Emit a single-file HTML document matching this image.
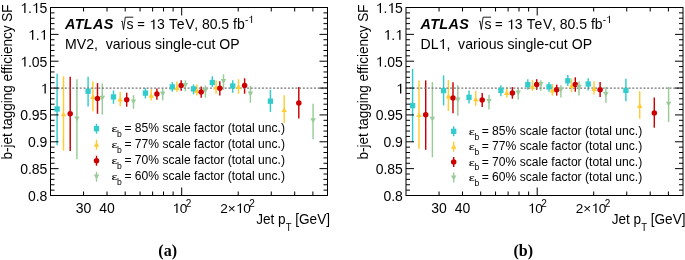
<!DOCTYPE html>
<html><head><meta charset="utf-8"><style>
html,body{margin:0;padding:0;background:#fff;}
svg{display:block;will-change:transform;}
text{font-family:"Liberation Sans",sans-serif;fill:#000;}
.tl{font-size:14px;}
.tl14{font-size:14px;}
.yt{font-size:13.5px;}
.atl{font-size:14.4px;font-weight:bold;font-style:italic;letter-spacing:0.35px;}
.lg{font-size:12.12px;}
.sup{font-size:10px;}
.sup2{font-size:10px;}
.sub{font-size:9.5px;}
.sub2{font-size:8.6px;}
.h{fill-opacity:0;}
.cap{font-family:"Liberation Serif",serif;font-weight:bold;font-size:16px;}
</style></head><body>
<svg width="685" height="260" viewBox="0 0 685 260">
<g>
<line x1="57.10" y1="73.80" x2="57.10" y2="145.20" stroke="#33cccc" stroke-width="1.45"></line>
<line x1="63.50" y1="76.20" x2="63.50" y2="150.60" stroke="#ffcc33" stroke-width="1.45"></line>
<line x1="70.20" y1="76.70" x2="70.20" y2="151.00" stroke="#cc0000" stroke-width="1.45"></line>
<line x1="76.90" y1="79.20" x2="76.90" y2="159.20" stroke="#99cc99" stroke-width="1.45"></line>
<line x1="88.10" y1="76.70" x2="88.10" y2="106.50" stroke="#33cccc" stroke-width="1.45"></line>
<line x1="92.90" y1="81.20" x2="92.90" y2="111.30" stroke="#ffcc33" stroke-width="1.45"></line>
<line x1="97.50" y1="83.10" x2="97.50" y2="113.80" stroke="#cc0000" stroke-width="1.45"></line>
<line x1="102.30" y1="83.50" x2="102.30" y2="114.60" stroke="#99cc99" stroke-width="1.45"></line>
<line x1="113.50" y1="90.40" x2="113.50" y2="103.80" stroke="#33cccc" stroke-width="1.45"></line>
<line x1="120.20" y1="91.70" x2="120.20" y2="106.20" stroke="#ffcc33" stroke-width="1.45"></line>
<line x1="126.70" y1="92.70" x2="126.70" y2="106.70" stroke="#cc0000" stroke-width="1.45"></line>
<line x1="133.50" y1="95.20" x2="133.50" y2="108.80" stroke="#99cc99" stroke-width="1.45"></line>
<line x1="145.40" y1="87.90" x2="145.40" y2="98.50" stroke="#33cccc" stroke-width="1.45"></line>
<line x1="151.20" y1="89.20" x2="151.20" y2="100.40" stroke="#ffcc33" stroke-width="1.45"></line>
<line x1="156.90" y1="88.50" x2="156.90" y2="99.80" stroke="#cc0000" stroke-width="1.45"></line>
<line x1="162.70" y1="88.50" x2="162.70" y2="100.40" stroke="#99cc99" stroke-width="1.45"></line>
<line x1="172.30" y1="82.10" x2="172.30" y2="91.70" stroke="#33cccc" stroke-width="1.45"></line>
<line x1="176.90" y1="81.50" x2="176.90" y2="91.70" stroke="#ffcc33" stroke-width="1.45"></line>
<line x1="181.20" y1="80.20" x2="181.20" y2="90.80" stroke="#cc0000" stroke-width="1.45"></line>
<line x1="185.40" y1="80.20" x2="185.40" y2="91.30" stroke="#99cc99" stroke-width="1.45"></line>
<line x1="193.50" y1="84.40" x2="193.50" y2="94.40" stroke="#33cccc" stroke-width="1.45"></line>
<line x1="196.90" y1="84.60" x2="196.90" y2="95.60" stroke="#ffcc33" stroke-width="1.45"></line>
<line x1="201.20" y1="86.40" x2="201.20" y2="97.80" stroke="#cc0000" stroke-width="1.45"></line>
<line x1="205.40" y1="85.40" x2="205.40" y2="97.60" stroke="#99cc99" stroke-width="1.45"></line>
<line x1="212.30" y1="76.30" x2="212.30" y2="86.90" stroke="#33cccc" stroke-width="1.45"></line>
<line x1="216.10" y1="80.20" x2="216.10" y2="93.70" stroke="#ffcc33" stroke-width="1.45"></line>
<line x1="219.80" y1="81.20" x2="219.80" y2="95.60" stroke="#cc0000" stroke-width="1.45"></line>
<line x1="223.50" y1="74.40" x2="223.50" y2="89.80" stroke="#99cc99" stroke-width="1.45"></line>
<line x1="232.70" y1="80.20" x2="232.70" y2="92.70" stroke="#33cccc" stroke-width="1.45"></line>
<line x1="238.50" y1="79.20" x2="238.50" y2="93.70" stroke="#ffcc33" stroke-width="1.45"></line>
<line x1="244.60" y1="78.30" x2="244.60" y2="93.70" stroke="#cc0000" stroke-width="1.45"></line>
<line x1="250.40" y1="86.00" x2="250.40" y2="102.70" stroke="#99cc99" stroke-width="1.45"></line>
<line x1="270.40" y1="89.80" x2="270.40" y2="111.90" stroke="#33cccc" stroke-width="1.45"></line>
<line x1="284.20" y1="95.20" x2="284.20" y2="122.90" stroke="#ffcc33" stroke-width="1.45"></line>
<line x1="298.80" y1="86.90" x2="298.80" y2="118.50" stroke="#cc0000" stroke-width="1.45"></line>
<line x1="313.10" y1="103.70" x2="313.10" y2="139.20" stroke="#99cc99" stroke-width="1.45"></line>
<line x1="50" y1="88.07" x2="327.5" y2="88.07" stroke="#777" stroke-width="1.2" stroke-dasharray="2 1.718"></line>
<rect x="54.45" y="106.35" width="5.3" height="5.3" fill="#33cccc"></rect>
<path d="M63.50 111.40L66.25 116.30L60.75 116.30Z" fill="#ffcc33"></path>
<circle cx="70.20" cy="113.80" r="2.75" fill="#cc0000"></circle>
<path d="M76.90 121.30L79.65 116.40L74.15 116.40Z" fill="#99cc99"></path>
<rect x="85.45" y="88.55" width="5.3" height="5.3" fill="#33cccc"></rect>
<path d="M92.90 94.10L95.65 99.00L90.15 99.00Z" fill="#ffcc33"></path>
<circle cx="97.50" cy="98.50" r="2.75" fill="#cc0000"></circle>
<path d="M102.30 100.70L105.05 95.80L99.55 95.80Z" fill="#99cc99"></path>
<rect x="110.85" y="94.25" width="5.3" height="5.3" fill="#33cccc"></rect>
<path d="M120.20 96.60L122.95 101.50L117.45 101.50Z" fill="#ffcc33"></path>
<circle cx="126.70" cy="99.80" r="2.75" fill="#cc0000"></circle>
<path d="M133.50 104.30L136.25 99.40L130.75 99.40Z" fill="#99cc99"></path>
<rect x="142.75" y="90.45" width="5.3" height="5.3" fill="#33cccc"></rect>
<path d="M151.20 92.80L153.95 97.70L148.45 97.70Z" fill="#ffcc33"></path>
<circle cx="156.90" cy="94.00" r="2.75" fill="#cc0000"></circle>
<path d="M162.70 96.50L165.45 91.60L159.95 91.60Z" fill="#99cc99"></path>
<rect x="169.65" y="84.25" width="5.3" height="5.3" fill="#33cccc"></rect>
<path d="M176.90 85.10L179.65 90.00L174.15 90.00Z" fill="#ffcc33"></path>
<circle cx="181.20" cy="85.60" r="2.75" fill="#cc0000"></circle>
<path d="M185.40 87.80L188.15 82.90L182.65 82.90Z" fill="#99cc99"></path>
<rect x="190.85" y="86.25" width="5.3" height="5.3" fill="#33cccc"></rect>
<path d="M196.90 88.00L199.65 92.90L194.15 92.90Z" fill="#ffcc33"></path>
<circle cx="201.20" cy="92.10" r="2.75" fill="#cc0000"></circle>
<path d="M205.40 93.30L208.15 88.40L202.65 88.40Z" fill="#99cc99"></path>
<rect x="209.65" y="79.85" width="5.3" height="5.3" fill="#33cccc"></rect>
<path d="M216.10 84.70L218.85 89.60L213.35 89.60Z" fill="#ffcc33"></path>
<circle cx="219.80" cy="88.30" r="2.75" fill="#cc0000"></circle>
<path d="M223.50 84.00L226.25 79.10L220.75 79.10Z" fill="#99cc99"></path>
<rect x="230.05" y="83.35" width="5.3" height="5.3" fill="#33cccc"></rect>
<path d="M238.50 84.10L241.25 89.00L235.75 89.00Z" fill="#ffcc33"></path>
<circle cx="244.60" cy="85.60" r="2.75" fill="#cc0000"></circle>
<path d="M250.40 96.50L253.15 91.60L247.65 91.60Z" fill="#99cc99"></path>
<rect x="267.75" y="98.55" width="5.3" height="5.3" fill="#33cccc"></rect>
<path d="M284.20 107.20L286.95 112.10L281.45 112.10Z" fill="#ffcc33"></path>
<circle cx="298.80" cy="103.10" r="2.75" fill="#cc0000"></circle>
<path d="M313.10 123.20L315.85 118.30L310.35 118.30Z" fill="#99cc99"></path>
<rect x="50.5" y="7.5" width="277.0" height="188.0" fill="none" stroke="#000" stroke-width="1"></rect>
<line x1="50.5" y1="195.50" x2="58.5" y2="195.50" stroke="#000" stroke-width="1"></line>
<line x1="327.5" y1="195.50" x2="319.5" y2="195.50" stroke="#000" stroke-width="1"></line>
<line x1="50.5" y1="190.13" x2="54.5" y2="190.13" stroke="#000" stroke-width="1"></line>
<line x1="327.5" y1="190.13" x2="323.5" y2="190.13" stroke="#000" stroke-width="1"></line>
<line x1="50.5" y1="184.76" x2="54.5" y2="184.76" stroke="#000" stroke-width="1"></line>
<line x1="327.5" y1="184.76" x2="323.5" y2="184.76" stroke="#000" stroke-width="1"></line>
<line x1="50.5" y1="179.39" x2="54.5" y2="179.39" stroke="#000" stroke-width="1"></line>
<line x1="327.5" y1="179.39" x2="323.5" y2="179.39" stroke="#000" stroke-width="1"></line>
<line x1="50.5" y1="174.01" x2="54.5" y2="174.01" stroke="#000" stroke-width="1"></line>
<line x1="327.5" y1="174.01" x2="323.5" y2="174.01" stroke="#000" stroke-width="1"></line>
<line x1="50.5" y1="168.64" x2="58.5" y2="168.64" stroke="#000" stroke-width="1"></line>
<line x1="327.5" y1="168.64" x2="319.5" y2="168.64" stroke="#000" stroke-width="1"></line>
<line x1="50.5" y1="163.27" x2="54.5" y2="163.27" stroke="#000" stroke-width="1"></line>
<line x1="327.5" y1="163.27" x2="323.5" y2="163.27" stroke="#000" stroke-width="1"></line>
<line x1="50.5" y1="157.90" x2="54.5" y2="157.90" stroke="#000" stroke-width="1"></line>
<line x1="327.5" y1="157.90" x2="323.5" y2="157.90" stroke="#000" stroke-width="1"></line>
<line x1="50.5" y1="152.53" x2="54.5" y2="152.53" stroke="#000" stroke-width="1"></line>
<line x1="327.5" y1="152.53" x2="323.5" y2="152.53" stroke="#000" stroke-width="1"></line>
<line x1="50.5" y1="147.16" x2="54.5" y2="147.16" stroke="#000" stroke-width="1"></line>
<line x1="327.5" y1="147.16" x2="323.5" y2="147.16" stroke="#000" stroke-width="1"></line>
<line x1="50.5" y1="141.79" x2="58.5" y2="141.79" stroke="#000" stroke-width="1"></line>
<line x1="327.5" y1="141.79" x2="319.5" y2="141.79" stroke="#000" stroke-width="1"></line>
<line x1="50.5" y1="136.41" x2="54.5" y2="136.41" stroke="#000" stroke-width="1"></line>
<line x1="327.5" y1="136.41" x2="323.5" y2="136.41" stroke="#000" stroke-width="1"></line>
<line x1="50.5" y1="131.04" x2="54.5" y2="131.04" stroke="#000" stroke-width="1"></line>
<line x1="327.5" y1="131.04" x2="323.5" y2="131.04" stroke="#000" stroke-width="1"></line>
<line x1="50.5" y1="125.67" x2="54.5" y2="125.67" stroke="#000" stroke-width="1"></line>
<line x1="327.5" y1="125.67" x2="323.5" y2="125.67" stroke="#000" stroke-width="1"></line>
<line x1="50.5" y1="120.30" x2="54.5" y2="120.30" stroke="#000" stroke-width="1"></line>
<line x1="327.5" y1="120.30" x2="323.5" y2="120.30" stroke="#000" stroke-width="1"></line>
<line x1="50.5" y1="114.93" x2="58.5" y2="114.93" stroke="#000" stroke-width="1"></line>
<line x1="327.5" y1="114.93" x2="319.5" y2="114.93" stroke="#000" stroke-width="1"></line>
<line x1="50.5" y1="109.56" x2="54.5" y2="109.56" stroke="#000" stroke-width="1"></line>
<line x1="327.5" y1="109.56" x2="323.5" y2="109.56" stroke="#000" stroke-width="1"></line>
<line x1="50.5" y1="104.19" x2="54.5" y2="104.19" stroke="#000" stroke-width="1"></line>
<line x1="327.5" y1="104.19" x2="323.5" y2="104.19" stroke="#000" stroke-width="1"></line>
<line x1="50.5" y1="98.81" x2="54.5" y2="98.81" stroke="#000" stroke-width="1"></line>
<line x1="327.5" y1="98.81" x2="323.5" y2="98.81" stroke="#000" stroke-width="1"></line>
<line x1="50.5" y1="93.44" x2="54.5" y2="93.44" stroke="#000" stroke-width="1"></line>
<line x1="327.5" y1="93.44" x2="323.5" y2="93.44" stroke="#000" stroke-width="1"></line>
<line x1="50.5" y1="88.07" x2="58.5" y2="88.07" stroke="#000" stroke-width="1"></line>
<line x1="327.5" y1="88.07" x2="319.5" y2="88.07" stroke="#000" stroke-width="1"></line>
<line x1="50.5" y1="82.70" x2="54.5" y2="82.70" stroke="#000" stroke-width="1"></line>
<line x1="327.5" y1="82.70" x2="323.5" y2="82.70" stroke="#000" stroke-width="1"></line>
<line x1="50.5" y1="77.33" x2="54.5" y2="77.33" stroke="#000" stroke-width="1"></line>
<line x1="327.5" y1="77.33" x2="323.5" y2="77.33" stroke="#000" stroke-width="1"></line>
<line x1="50.5" y1="71.96" x2="54.5" y2="71.96" stroke="#000" stroke-width="1"></line>
<line x1="327.5" y1="71.96" x2="323.5" y2="71.96" stroke="#000" stroke-width="1"></line>
<line x1="50.5" y1="66.59" x2="54.5" y2="66.59" stroke="#000" stroke-width="1"></line>
<line x1="327.5" y1="66.59" x2="323.5" y2="66.59" stroke="#000" stroke-width="1"></line>
<line x1="50.5" y1="61.21" x2="58.5" y2="61.21" stroke="#000" stroke-width="1"></line>
<line x1="327.5" y1="61.21" x2="319.5" y2="61.21" stroke="#000" stroke-width="1"></line>
<line x1="50.5" y1="55.84" x2="54.5" y2="55.84" stroke="#000" stroke-width="1"></line>
<line x1="327.5" y1="55.84" x2="323.5" y2="55.84" stroke="#000" stroke-width="1"></line>
<line x1="50.5" y1="50.47" x2="54.5" y2="50.47" stroke="#000" stroke-width="1"></line>
<line x1="327.5" y1="50.47" x2="323.5" y2="50.47" stroke="#000" stroke-width="1"></line>
<line x1="50.5" y1="45.10" x2="54.5" y2="45.10" stroke="#000" stroke-width="1"></line>
<line x1="327.5" y1="45.10" x2="323.5" y2="45.10" stroke="#000" stroke-width="1"></line>
<line x1="50.5" y1="39.73" x2="54.5" y2="39.73" stroke="#000" stroke-width="1"></line>
<line x1="327.5" y1="39.73" x2="323.5" y2="39.73" stroke="#000" stroke-width="1"></line>
<line x1="50.5" y1="34.36" x2="58.5" y2="34.36" stroke="#000" stroke-width="1"></line>
<line x1="327.5" y1="34.36" x2="319.5" y2="34.36" stroke="#000" stroke-width="1"></line>
<line x1="50.5" y1="28.99" x2="54.5" y2="28.99" stroke="#000" stroke-width="1"></line>
<line x1="327.5" y1="28.99" x2="323.5" y2="28.99" stroke="#000" stroke-width="1"></line>
<line x1="50.5" y1="23.61" x2="54.5" y2="23.61" stroke="#000" stroke-width="1"></line>
<line x1="327.5" y1="23.61" x2="323.5" y2="23.61" stroke="#000" stroke-width="1"></line>
<line x1="50.5" y1="18.24" x2="54.5" y2="18.24" stroke="#000" stroke-width="1"></line>
<line x1="327.5" y1="18.24" x2="323.5" y2="18.24" stroke="#000" stroke-width="1"></line>
<line x1="50.5" y1="12.87" x2="54.5" y2="12.87" stroke="#000" stroke-width="1"></line>
<line x1="327.5" y1="12.87" x2="323.5" y2="12.87" stroke="#000" stroke-width="1"></line>
<line x1="50.5" y1="7.50" x2="58.5" y2="7.50" stroke="#000" stroke-width="1"></line>
<line x1="327.5" y1="7.50" x2="319.5" y2="7.50" stroke="#000" stroke-width="1"></line>
<line x1="83.55" y1="195.5" x2="83.55" y2="191.5" stroke="#000" stroke-width="1"></line>
<line x1="83.55" y1="7.5" x2="83.55" y2="11.5" stroke="#000" stroke-width="1"></line>
<line x1="107.00" y1="195.5" x2="107.00" y2="191.5" stroke="#000" stroke-width="1"></line>
<line x1="107.00" y1="7.5" x2="107.00" y2="11.5" stroke="#000" stroke-width="1"></line>
<line x1="125.19" y1="195.5" x2="125.19" y2="191.5" stroke="#000" stroke-width="1"></line>
<line x1="125.19" y1="7.5" x2="125.19" y2="11.5" stroke="#000" stroke-width="1"></line>
<line x1="140.06" y1="195.5" x2="140.06" y2="191.5" stroke="#000" stroke-width="1"></line>
<line x1="140.06" y1="7.5" x2="140.06" y2="11.5" stroke="#000" stroke-width="1"></line>
<line x1="152.62" y1="195.5" x2="152.62" y2="191.5" stroke="#000" stroke-width="1"></line>
<line x1="152.62" y1="7.5" x2="152.62" y2="11.5" stroke="#000" stroke-width="1"></line>
<line x1="163.51" y1="195.5" x2="163.51" y2="191.5" stroke="#000" stroke-width="1"></line>
<line x1="163.51" y1="7.5" x2="163.51" y2="11.5" stroke="#000" stroke-width="1"></line>
<line x1="173.11" y1="195.5" x2="173.11" y2="191.5" stroke="#000" stroke-width="1"></line>
<line x1="173.11" y1="7.5" x2="173.11" y2="11.5" stroke="#000" stroke-width="1"></line>
<line x1="181.70" y1="195.5" x2="181.70" y2="187.5" stroke="#000" stroke-width="1"></line>
<line x1="181.70" y1="7.5" x2="181.70" y2="15.5" stroke="#000" stroke-width="1"></line>
<line x1="238.20" y1="195.5" x2="238.20" y2="191.5" stroke="#000" stroke-width="1"></line>
<line x1="238.20" y1="7.5" x2="238.20" y2="11.5" stroke="#000" stroke-width="1"></line>
<line x1="271.25" y1="195.5" x2="271.25" y2="191.5" stroke="#000" stroke-width="1"></line>
<line x1="271.25" y1="7.5" x2="271.25" y2="11.5" stroke="#000" stroke-width="1"></line>
<line x1="294.70" y1="195.5" x2="294.70" y2="191.5" stroke="#000" stroke-width="1"></line>
<line x1="294.70" y1="7.5" x2="294.70" y2="11.5" stroke="#000" stroke-width="1"></line>
<line x1="312.89" y1="195.5" x2="312.89" y2="191.5" stroke="#000" stroke-width="1"></line>
<line x1="312.89" y1="7.5" x2="312.89" y2="11.5" stroke="#000" stroke-width="1"></line>
<text x="47.4" y="200.90" text-anchor="end" class="tl">0.8</text>
<text x="47.4" y="174.04" text-anchor="end" class="tl">0.85</text>
<text x="47.4" y="147.19" text-anchor="end" class="tl">0.9</text>
<text x="47.4" y="120.33" text-anchor="end" class="tl">0.95</text>
<text x="48.2" y="93.47" text-anchor="end" class="tl"><tspan class="h">1</tspan></text><path d="M44.53 93.47L45.79 93.47L45.79 83.63L44.81 83.63L44.46 84.30L43.62 85.07L42.08 85.63L42.08 86.54L43.48 86.05L44.53 85.35Z"></path>
<text x="47.4" y="66.61" text-anchor="end" class="tl"><tspan class="h">1</tspan>.05</text><path d="M24.26 66.61L25.52 66.61L25.52 56.77L24.54 56.77L24.19 57.44L23.35 58.21L21.81 58.77L21.81 59.68L23.21 59.19L24.26 58.49Z"></path>
<text x="47.4" y="39.76" text-anchor="end" class="tl"><tspan class="h">1</tspan>.<tspan class="h">1</tspan></text><path d="M43.73 39.76L44.99 39.76L44.99 29.92L44.01 29.92L43.66 30.59L42.82 31.36L41.28 31.92L41.28 32.83L42.68 32.34L43.73 31.64Z"></path><path d="M32.05 39.76L33.31 39.76L33.31 29.92L32.33 29.92L31.98 30.59L31.14 31.36L29.60 31.92L29.60 32.83L31.00 32.34L32.05 31.64Z"></path>
<text x="47.4" y="12.90" text-anchor="end" class="tl"><tspan class="h">1</tspan>.<tspan class="h">1</tspan>5</text><path d="M35.94 12.90L37.20 12.90L37.20 3.06L36.22 3.06L35.87 3.73L35.03 4.50L33.49 5.06L33.49 5.97L34.89 5.48L35.94 4.78Z"></path><path d="M24.25 12.90L25.51 12.90L25.51 3.06L24.53 3.06L24.18 3.73L23.34 4.50L21.80 5.06L21.80 5.97L23.20 5.48L24.25 4.78Z"></path>
<text x="83.55" y="213" text-anchor="middle" class="tl">30</text>
<text x="107.00" y="213" text-anchor="middle" class="tl">40</text>
<text x="172.3" y="213" class="tl" style="font-size:13.6px"><tspan class="h">1</tspan>0<tspan class="sup" dx="-1.6" dy="-5.6">2</tspan></text><path d="M176.31 213.00L177.54 213.00L177.54 203.44L176.58 203.44L176.24 204.09L175.43 204.84L173.93 205.38L173.93 206.27L175.29 205.79L176.31 205.11Z"></path>
<text x="220.3" y="213" class="tl" style="font-size:13.6px">2×<tspan class="h">1</tspan>0<tspan class="sup" dx="-1.6" dy="-5.6">2</tspan></text><path d="M239.81 213.00L241.04 213.00L241.04 203.44L240.08 203.44L239.74 204.09L238.93 204.84L237.43 205.38L237.43 206.27L238.79 205.79L239.81 205.11Z"></path>
<text transform="translate(256.2,223.6) scale(1,1.07)" class="tl" style="font-size:13.6px">Jet p<tspan class="sub" dy="6.8">T</tspan><tspan dy="-6.8"> [GeV]</tspan></text>
<text transform="translate(12,159.4) rotate(-90) scale(1,1.07)" class="yt">b-jet tagging efficiency SF</text>
<text x="65" y="29.1" class="atl">ATLAS</text>
<text x="65" y="49" class="tl14" style="font-size:14.1px">MV2,&nbsp; various single-cut OP</text>
<path d="M121.30 21.5 L122.20 21.0 L123.50 29.5 L125.30 17.2 L133.30 17.2" fill="none" stroke="#000" stroke-width="0.9"></path>
<text y="29.3" class="tl14"><tspan x="126.60">s</tspan><tspan x="149.10"><tspan class="h">1</tspan>3</tspan><tspan x="168.90" style="letter-spacing:0.8px">TeV,</tspan><tspan x="201.90">80.5</tspan><tspan x="233.10">fb</tspan><tspan class="sup2" x="244.90" dy="-6.4">-<tspan class="h">1</tspan></tspan></text><path d="M251.19 22.90L252.09 22.90L252.09 15.87L251.39 15.87L251.14 16.35L250.54 16.90L249.44 17.30L249.44 17.95L250.44 17.60L251.19 17.10Z"></path><path d="M153.23 29.30L154.49 29.30L154.49 19.46L153.51 19.46L153.16 20.13L152.32 20.90L150.78 21.46L150.78 22.37L152.18 21.88L153.23 21.18Z"></path>
<rect x="137.80" y="22.0" width="6.4" height="1.15"></rect>
<rect x="137.80" y="25.0" width="6.4" height="1.15"></rect>
<line x1="96.5" y1="123.69999999999999" x2="96.5" y2="133.7" stroke="#33cccc" stroke-width="1.4"></line>
<rect x="93.85" y="126.05" width="5.3" height="5.3" fill="#33cccc"></rect>
<text transform="translate(111.5,132.20) scale(1.15,0.8)" class="lg">ε</text>
<text x="117.10" y="137.00" class="sub2">b</text>
<text x="124.40" y="132.20" class="lg">= 85% scale factor (total unc.)</text>
<line x1="96.5" y1="139.7" x2="96.5" y2="149.7" stroke="#ffcc33" stroke-width="1.4"></line>
<path d="M96.50 141.90L99.25 146.80L93.75 146.80Z" fill="#ffcc33"></path>
<text transform="translate(111.5,148.20) scale(1.15,0.8)" class="lg">ε</text>
<text x="117.10" y="153.00" class="sub2">b</text>
<text x="124.40" y="148.20" class="lg">= 77% scale factor (total unc.)</text>
<line x1="96.5" y1="155.7" x2="96.5" y2="165.7" stroke="#cc0000" stroke-width="1.4"></line>
<circle cx="96.50" cy="160.70" r="2.75" fill="#cc0000"></circle>
<text transform="translate(111.5,164.20) scale(1.15,0.8)" class="lg">ε</text>
<text x="117.10" y="169.00" class="sub2">b</text>
<text x="124.40" y="164.20" class="lg">= 70% scale factor (total unc.)</text>
<line x1="96.5" y1="171.7" x2="96.5" y2="181.7" stroke="#99cc99" stroke-width="1.4"></line>
<path d="M96.50 179.50L99.25 174.60L93.75 174.60Z" fill="#99cc99"></path>
<text transform="translate(111.5,180.20) scale(1.15,0.8)" class="lg">ε</text>
<text x="117.10" y="185.00" class="sub2">b</text>
<text x="124.40" y="180.20" class="lg">= 60% scale factor (total unc.)</text>
</g>
<g transform="translate(355.5,0)">
<line x1="57.10" y1="68.80" x2="57.10" y2="141.90" stroke="#33cccc" stroke-width="1.45"></line>
<line x1="63.50" y1="80.40" x2="63.50" y2="148.70" stroke="#ffcc33" stroke-width="1.45"></line>
<line x1="70.20" y1="80.40" x2="70.20" y2="149.80" stroke="#cc0000" stroke-width="1.45"></line>
<line x1="76.90" y1="82.10" x2="76.90" y2="157.30" stroke="#99cc99" stroke-width="1.45"></line>
<line x1="88.10" y1="75.40" x2="88.10" y2="105.40" stroke="#33cccc" stroke-width="1.45"></line>
<line x1="92.90" y1="80.00" x2="92.90" y2="111.00" stroke="#ffcc33" stroke-width="1.45"></line>
<line x1="97.50" y1="82.30" x2="97.50" y2="113.30" stroke="#cc0000" stroke-width="1.45"></line>
<line x1="102.30" y1="85.20" x2="102.30" y2="115.80" stroke="#99cc99" stroke-width="1.45"></line>
<line x1="113.50" y1="90.40" x2="113.50" y2="103.50" stroke="#33cccc" stroke-width="1.45"></line>
<line x1="120.20" y1="91.00" x2="120.20" y2="105.80" stroke="#ffcc33" stroke-width="1.45"></line>
<line x1="126.70" y1="92.90" x2="126.70" y2="106.90" stroke="#cc0000" stroke-width="1.45"></line>
<line x1="133.50" y1="94.80" x2="133.50" y2="109.40" stroke="#99cc99" stroke-width="1.45"></line>
<line x1="145.40" y1="85.20" x2="145.40" y2="96.20" stroke="#33cccc" stroke-width="1.45"></line>
<line x1="151.20" y1="87.10" x2="151.20" y2="97.70" stroke="#ffcc33" stroke-width="1.45"></line>
<line x1="156.90" y1="87.10" x2="156.90" y2="98.70" stroke="#cc0000" stroke-width="1.45"></line>
<line x1="162.70" y1="87.70" x2="162.70" y2="99.60" stroke="#99cc99" stroke-width="1.45"></line>
<line x1="172.30" y1="79.30" x2="172.30" y2="89.70" stroke="#33cccc" stroke-width="1.45"></line>
<line x1="176.90" y1="80.10" x2="176.90" y2="90.90" stroke="#ffcc33" stroke-width="1.45"></line>
<line x1="181.20" y1="79.20" x2="181.20" y2="89.80" stroke="#cc0000" stroke-width="1.45"></line>
<line x1="185.40" y1="80.20" x2="185.40" y2="90.80" stroke="#99cc99" stroke-width="1.45"></line>
<line x1="193.50" y1="82.10" x2="193.50" y2="91.70" stroke="#33cccc" stroke-width="1.45"></line>
<line x1="196.90" y1="84.00" x2="196.90" y2="95.60" stroke="#ffcc33" stroke-width="1.45"></line>
<line x1="201.20" y1="84.60" x2="201.20" y2="95.60" stroke="#cc0000" stroke-width="1.45"></line>
<line x1="205.40" y1="85.00" x2="205.40" y2="97.50" stroke="#99cc99" stroke-width="1.45"></line>
<line x1="212.30" y1="75.00" x2="212.30" y2="86.00" stroke="#33cccc" stroke-width="1.45"></line>
<line x1="216.10" y1="78.80" x2="216.10" y2="92.30" stroke="#ffcc33" stroke-width="1.45"></line>
<line x1="219.80" y1="77.30" x2="219.80" y2="91.70" stroke="#cc0000" stroke-width="1.45"></line>
<line x1="223.50" y1="81.20" x2="223.50" y2="95.60" stroke="#99cc99" stroke-width="1.45"></line>
<line x1="232.70" y1="78.30" x2="232.70" y2="90.40" stroke="#33cccc" stroke-width="1.45"></line>
<line x1="238.50" y1="81.20" x2="238.50" y2="94.60" stroke="#ffcc33" stroke-width="1.45"></line>
<line x1="244.60" y1="82.10" x2="244.60" y2="96.90" stroke="#cc0000" stroke-width="1.45"></line>
<line x1="250.40" y1="86.90" x2="250.40" y2="102.70" stroke="#99cc99" stroke-width="1.45"></line>
<line x1="270.40" y1="78.80" x2="270.40" y2="101.30" stroke="#33cccc" stroke-width="1.45"></line>
<line x1="284.20" y1="91.20" x2="284.20" y2="118.70" stroke="#ffcc33" stroke-width="1.45"></line>
<line x1="298.80" y1="97.50" x2="298.80" y2="127.70" stroke="#cc0000" stroke-width="1.45"></line>
<line x1="313.10" y1="86.90" x2="313.10" y2="121.90" stroke="#99cc99" stroke-width="1.45"></line>
<line x1="50" y1="88.07" x2="327.5" y2="88.07" stroke="#777" stroke-width="1.2" stroke-dasharray="2 1.718"></line>
<rect x="54.45" y="102.95" width="5.3" height="5.3" fill="#33cccc"></rect>
<path d="M63.50 112.20L66.25 117.10L60.75 117.10Z" fill="#ffcc33"></path>
<circle cx="70.20" cy="114.80" r="2.75" fill="#cc0000"></circle>
<path d="M76.90 121.60L79.65 116.70L74.15 116.70Z" fill="#99cc99"></path>
<rect x="85.45" y="87.95" width="5.3" height="5.3" fill="#33cccc"></rect>
<path d="M92.90 93.50L95.65 98.40L90.15 98.40Z" fill="#ffcc33"></path>
<circle cx="97.50" cy="98.10" r="2.75" fill="#cc0000"></circle>
<path d="M102.30 102.40L105.05 97.50L99.55 97.50Z" fill="#99cc99"></path>
<rect x="110.85" y="94.65" width="5.3" height="5.3" fill="#33cccc"></rect>
<path d="M120.20 96.40L122.95 101.30L117.45 101.30Z" fill="#ffcc33"></path>
<circle cx="126.70" cy="100.00" r="2.75" fill="#cc0000"></circle>
<path d="M133.50 104.00L136.25 99.10L130.75 99.10Z" fill="#99cc99"></path>
<rect x="142.75" y="87.75" width="5.3" height="5.3" fill="#33cccc"></rect>
<path d="M151.20 90.10L153.95 95.00L148.45 95.00Z" fill="#ffcc33"></path>
<circle cx="156.90" cy="92.90" r="2.75" fill="#cc0000"></circle>
<path d="M162.70 95.30L165.45 90.40L159.95 90.40Z" fill="#99cc99"></path>
<rect x="169.65" y="81.95" width="5.3" height="5.3" fill="#33cccc"></rect>
<path d="M176.90 83.90L179.65 88.80L174.15 88.80Z" fill="#ffcc33"></path>
<circle cx="181.20" cy="84.60" r="2.75" fill="#cc0000"></circle>
<path d="M185.40 86.80L188.15 81.90L182.65 81.90Z" fill="#99cc99"></path>
<rect x="190.85" y="84.25" width="5.3" height="5.3" fill="#33cccc"></rect>
<path d="M196.90 87.60L199.65 92.50L194.15 92.50Z" fill="#ffcc33"></path>
<circle cx="201.20" cy="89.80" r="2.75" fill="#cc0000"></circle>
<path d="M205.40 92.60L208.15 87.70L202.65 87.70Z" fill="#99cc99"></path>
<rect x="209.65" y="78.15" width="5.3" height="5.3" fill="#33cccc"></rect>
<path d="M216.10 83.20L218.85 88.10L213.35 88.10Z" fill="#ffcc33"></path>
<circle cx="219.80" cy="84.40" r="2.75" fill="#cc0000"></circle>
<path d="M223.50 89.70L226.25 84.80L220.75 84.80Z" fill="#99cc99"></path>
<rect x="230.05" y="81.35" width="5.3" height="5.3" fill="#33cccc"></rect>
<path d="M238.50 86.00L241.25 90.90L235.75 90.90Z" fill="#ffcc33"></path>
<circle cx="244.60" cy="89.80" r="2.75" fill="#cc0000"></circle>
<path d="M250.40 97.00L253.15 92.10L247.65 92.10Z" fill="#99cc99"></path>
<rect x="267.75" y="87.75" width="5.3" height="5.3" fill="#33cccc"></rect>
<path d="M284.20 103.00L286.95 107.90L281.45 107.90Z" fill="#ffcc33"></path>
<circle cx="298.80" cy="112.90" r="2.75" fill="#cc0000"></circle>
<path d="M313.10 106.60L315.85 101.70L310.35 101.70Z" fill="#99cc99"></path>
<rect x="50.5" y="7.5" width="277.0" height="188.0" fill="none" stroke="#000" stroke-width="1"></rect>
<line x1="50.5" y1="195.50" x2="58.5" y2="195.50" stroke="#000" stroke-width="1"></line>
<line x1="327.5" y1="195.50" x2="319.5" y2="195.50" stroke="#000" stroke-width="1"></line>
<line x1="50.5" y1="190.13" x2="54.5" y2="190.13" stroke="#000" stroke-width="1"></line>
<line x1="327.5" y1="190.13" x2="323.5" y2="190.13" stroke="#000" stroke-width="1"></line>
<line x1="50.5" y1="184.76" x2="54.5" y2="184.76" stroke="#000" stroke-width="1"></line>
<line x1="327.5" y1="184.76" x2="323.5" y2="184.76" stroke="#000" stroke-width="1"></line>
<line x1="50.5" y1="179.39" x2="54.5" y2="179.39" stroke="#000" stroke-width="1"></line>
<line x1="327.5" y1="179.39" x2="323.5" y2="179.39" stroke="#000" stroke-width="1"></line>
<line x1="50.5" y1="174.01" x2="54.5" y2="174.01" stroke="#000" stroke-width="1"></line>
<line x1="327.5" y1="174.01" x2="323.5" y2="174.01" stroke="#000" stroke-width="1"></line>
<line x1="50.5" y1="168.64" x2="58.5" y2="168.64" stroke="#000" stroke-width="1"></line>
<line x1="327.5" y1="168.64" x2="319.5" y2="168.64" stroke="#000" stroke-width="1"></line>
<line x1="50.5" y1="163.27" x2="54.5" y2="163.27" stroke="#000" stroke-width="1"></line>
<line x1="327.5" y1="163.27" x2="323.5" y2="163.27" stroke="#000" stroke-width="1"></line>
<line x1="50.5" y1="157.90" x2="54.5" y2="157.90" stroke="#000" stroke-width="1"></line>
<line x1="327.5" y1="157.90" x2="323.5" y2="157.90" stroke="#000" stroke-width="1"></line>
<line x1="50.5" y1="152.53" x2="54.5" y2="152.53" stroke="#000" stroke-width="1"></line>
<line x1="327.5" y1="152.53" x2="323.5" y2="152.53" stroke="#000" stroke-width="1"></line>
<line x1="50.5" y1="147.16" x2="54.5" y2="147.16" stroke="#000" stroke-width="1"></line>
<line x1="327.5" y1="147.16" x2="323.5" y2="147.16" stroke="#000" stroke-width="1"></line>
<line x1="50.5" y1="141.79" x2="58.5" y2="141.79" stroke="#000" stroke-width="1"></line>
<line x1="327.5" y1="141.79" x2="319.5" y2="141.79" stroke="#000" stroke-width="1"></line>
<line x1="50.5" y1="136.41" x2="54.5" y2="136.41" stroke="#000" stroke-width="1"></line>
<line x1="327.5" y1="136.41" x2="323.5" y2="136.41" stroke="#000" stroke-width="1"></line>
<line x1="50.5" y1="131.04" x2="54.5" y2="131.04" stroke="#000" stroke-width="1"></line>
<line x1="327.5" y1="131.04" x2="323.5" y2="131.04" stroke="#000" stroke-width="1"></line>
<line x1="50.5" y1="125.67" x2="54.5" y2="125.67" stroke="#000" stroke-width="1"></line>
<line x1="327.5" y1="125.67" x2="323.5" y2="125.67" stroke="#000" stroke-width="1"></line>
<line x1="50.5" y1="120.30" x2="54.5" y2="120.30" stroke="#000" stroke-width="1"></line>
<line x1="327.5" y1="120.30" x2="323.5" y2="120.30" stroke="#000" stroke-width="1"></line>
<line x1="50.5" y1="114.93" x2="58.5" y2="114.93" stroke="#000" stroke-width="1"></line>
<line x1="327.5" y1="114.93" x2="319.5" y2="114.93" stroke="#000" stroke-width="1"></line>
<line x1="50.5" y1="109.56" x2="54.5" y2="109.56" stroke="#000" stroke-width="1"></line>
<line x1="327.5" y1="109.56" x2="323.5" y2="109.56" stroke="#000" stroke-width="1"></line>
<line x1="50.5" y1="104.19" x2="54.5" y2="104.19" stroke="#000" stroke-width="1"></line>
<line x1="327.5" y1="104.19" x2="323.5" y2="104.19" stroke="#000" stroke-width="1"></line>
<line x1="50.5" y1="98.81" x2="54.5" y2="98.81" stroke="#000" stroke-width="1"></line>
<line x1="327.5" y1="98.81" x2="323.5" y2="98.81" stroke="#000" stroke-width="1"></line>
<line x1="50.5" y1="93.44" x2="54.5" y2="93.44" stroke="#000" stroke-width="1"></line>
<line x1="327.5" y1="93.44" x2="323.5" y2="93.44" stroke="#000" stroke-width="1"></line>
<line x1="50.5" y1="88.07" x2="58.5" y2="88.07" stroke="#000" stroke-width="1"></line>
<line x1="327.5" y1="88.07" x2="319.5" y2="88.07" stroke="#000" stroke-width="1"></line>
<line x1="50.5" y1="82.70" x2="54.5" y2="82.70" stroke="#000" stroke-width="1"></line>
<line x1="327.5" y1="82.70" x2="323.5" y2="82.70" stroke="#000" stroke-width="1"></line>
<line x1="50.5" y1="77.33" x2="54.5" y2="77.33" stroke="#000" stroke-width="1"></line>
<line x1="327.5" y1="77.33" x2="323.5" y2="77.33" stroke="#000" stroke-width="1"></line>
<line x1="50.5" y1="71.96" x2="54.5" y2="71.96" stroke="#000" stroke-width="1"></line>
<line x1="327.5" y1="71.96" x2="323.5" y2="71.96" stroke="#000" stroke-width="1"></line>
<line x1="50.5" y1="66.59" x2="54.5" y2="66.59" stroke="#000" stroke-width="1"></line>
<line x1="327.5" y1="66.59" x2="323.5" y2="66.59" stroke="#000" stroke-width="1"></line>
<line x1="50.5" y1="61.21" x2="58.5" y2="61.21" stroke="#000" stroke-width="1"></line>
<line x1="327.5" y1="61.21" x2="319.5" y2="61.21" stroke="#000" stroke-width="1"></line>
<line x1="50.5" y1="55.84" x2="54.5" y2="55.84" stroke="#000" stroke-width="1"></line>
<line x1="327.5" y1="55.84" x2="323.5" y2="55.84" stroke="#000" stroke-width="1"></line>
<line x1="50.5" y1="50.47" x2="54.5" y2="50.47" stroke="#000" stroke-width="1"></line>
<line x1="327.5" y1="50.47" x2="323.5" y2="50.47" stroke="#000" stroke-width="1"></line>
<line x1="50.5" y1="45.10" x2="54.5" y2="45.10" stroke="#000" stroke-width="1"></line>
<line x1="327.5" y1="45.10" x2="323.5" y2="45.10" stroke="#000" stroke-width="1"></line>
<line x1="50.5" y1="39.73" x2="54.5" y2="39.73" stroke="#000" stroke-width="1"></line>
<line x1="327.5" y1="39.73" x2="323.5" y2="39.73" stroke="#000" stroke-width="1"></line>
<line x1="50.5" y1="34.36" x2="58.5" y2="34.36" stroke="#000" stroke-width="1"></line>
<line x1="327.5" y1="34.36" x2="319.5" y2="34.36" stroke="#000" stroke-width="1"></line>
<line x1="50.5" y1="28.99" x2="54.5" y2="28.99" stroke="#000" stroke-width="1"></line>
<line x1="327.5" y1="28.99" x2="323.5" y2="28.99" stroke="#000" stroke-width="1"></line>
<line x1="50.5" y1="23.61" x2="54.5" y2="23.61" stroke="#000" stroke-width="1"></line>
<line x1="327.5" y1="23.61" x2="323.5" y2="23.61" stroke="#000" stroke-width="1"></line>
<line x1="50.5" y1="18.24" x2="54.5" y2="18.24" stroke="#000" stroke-width="1"></line>
<line x1="327.5" y1="18.24" x2="323.5" y2="18.24" stroke="#000" stroke-width="1"></line>
<line x1="50.5" y1="12.87" x2="54.5" y2="12.87" stroke="#000" stroke-width="1"></line>
<line x1="327.5" y1="12.87" x2="323.5" y2="12.87" stroke="#000" stroke-width="1"></line>
<line x1="50.5" y1="7.50" x2="58.5" y2="7.50" stroke="#000" stroke-width="1"></line>
<line x1="327.5" y1="7.50" x2="319.5" y2="7.50" stroke="#000" stroke-width="1"></line>
<line x1="83.55" y1="195.5" x2="83.55" y2="191.5" stroke="#000" stroke-width="1"></line>
<line x1="83.55" y1="7.5" x2="83.55" y2="11.5" stroke="#000" stroke-width="1"></line>
<line x1="107.00" y1="195.5" x2="107.00" y2="191.5" stroke="#000" stroke-width="1"></line>
<line x1="107.00" y1="7.5" x2="107.00" y2="11.5" stroke="#000" stroke-width="1"></line>
<line x1="125.19" y1="195.5" x2="125.19" y2="191.5" stroke="#000" stroke-width="1"></line>
<line x1="125.19" y1="7.5" x2="125.19" y2="11.5" stroke="#000" stroke-width="1"></line>
<line x1="140.06" y1="195.5" x2="140.06" y2="191.5" stroke="#000" stroke-width="1"></line>
<line x1="140.06" y1="7.5" x2="140.06" y2="11.5" stroke="#000" stroke-width="1"></line>
<line x1="152.62" y1="195.5" x2="152.62" y2="191.5" stroke="#000" stroke-width="1"></line>
<line x1="152.62" y1="7.5" x2="152.62" y2="11.5" stroke="#000" stroke-width="1"></line>
<line x1="163.51" y1="195.5" x2="163.51" y2="191.5" stroke="#000" stroke-width="1"></line>
<line x1="163.51" y1="7.5" x2="163.51" y2="11.5" stroke="#000" stroke-width="1"></line>
<line x1="173.11" y1="195.5" x2="173.11" y2="191.5" stroke="#000" stroke-width="1"></line>
<line x1="173.11" y1="7.5" x2="173.11" y2="11.5" stroke="#000" stroke-width="1"></line>
<line x1="181.70" y1="195.5" x2="181.70" y2="187.5" stroke="#000" stroke-width="1"></line>
<line x1="181.70" y1="7.5" x2="181.70" y2="15.5" stroke="#000" stroke-width="1"></line>
<line x1="238.20" y1="195.5" x2="238.20" y2="191.5" stroke="#000" stroke-width="1"></line>
<line x1="238.20" y1="7.5" x2="238.20" y2="11.5" stroke="#000" stroke-width="1"></line>
<line x1="271.25" y1="195.5" x2="271.25" y2="191.5" stroke="#000" stroke-width="1"></line>
<line x1="271.25" y1="7.5" x2="271.25" y2="11.5" stroke="#000" stroke-width="1"></line>
<line x1="294.70" y1="195.5" x2="294.70" y2="191.5" stroke="#000" stroke-width="1"></line>
<line x1="294.70" y1="7.5" x2="294.70" y2="11.5" stroke="#000" stroke-width="1"></line>
<line x1="312.89" y1="195.5" x2="312.89" y2="191.5" stroke="#000" stroke-width="1"></line>
<line x1="312.89" y1="7.5" x2="312.89" y2="11.5" stroke="#000" stroke-width="1"></line>
<text x="47.4" y="200.90" text-anchor="end" class="tl">0.8</text>
<text x="47.4" y="174.04" text-anchor="end" class="tl">0.85</text>
<text x="47.4" y="147.19" text-anchor="end" class="tl">0.9</text>
<text x="47.4" y="120.33" text-anchor="end" class="tl">0.95</text>
<text x="48.2" y="93.47" text-anchor="end" class="tl"><tspan class="h">1</tspan></text><path d="M44.53 93.47L45.79 93.47L45.79 83.63L44.81 83.63L44.46 84.30L43.62 85.07L42.08 85.63L42.08 86.54L43.48 86.05L44.53 85.35Z"></path>
<text x="47.4" y="66.61" text-anchor="end" class="tl"><tspan class="h">1</tspan>.05</text><path d="M24.26 66.61L25.52 66.61L25.52 56.77L24.54 56.77L24.19 57.44L23.35 58.21L21.81 58.77L21.81 59.68L23.21 59.19L24.26 58.49Z"></path>
<text x="47.4" y="39.76" text-anchor="end" class="tl"><tspan class="h">1</tspan>.<tspan class="h">1</tspan></text><path d="M43.73 39.76L44.99 39.76L44.99 29.92L44.01 29.92L43.66 30.59L42.82 31.36L41.28 31.92L41.28 32.83L42.68 32.34L43.73 31.64Z"></path><path d="M32.05 39.76L33.31 39.76L33.31 29.92L32.33 29.92L31.98 30.59L31.14 31.36L29.60 31.92L29.60 32.83L31.00 32.34L32.05 31.64Z"></path>
<text x="47.4" y="12.90" text-anchor="end" class="tl"><tspan class="h">1</tspan>.<tspan class="h">1</tspan>5</text><path d="M35.94 12.90L37.20 12.90L37.20 3.06L36.22 3.06L35.87 3.73L35.03 4.50L33.49 5.06L33.49 5.97L34.89 5.48L35.94 4.78Z"></path><path d="M24.25 12.90L25.51 12.90L25.51 3.06L24.53 3.06L24.18 3.73L23.34 4.50L21.80 5.06L21.80 5.97L23.20 5.48L24.25 4.78Z"></path>
<text x="83.55" y="213" text-anchor="middle" class="tl">30</text>
<text x="107.00" y="213" text-anchor="middle" class="tl">40</text>
<text x="172.3" y="213" class="tl" style="font-size:13.6px"><tspan class="h">1</tspan>0<tspan class="sup" dx="-1.6" dy="-5.6">2</tspan></text><path d="M176.31 213.00L177.54 213.00L177.54 203.44L176.58 203.44L176.24 204.09L175.43 204.84L173.93 205.38L173.93 206.27L175.29 205.79L176.31 205.11Z"></path>
<text x="220.3" y="213" class="tl" style="font-size:13.6px">2×<tspan class="h">1</tspan>0<tspan class="sup" dx="-1.6" dy="-5.6">2</tspan></text><path d="M239.81 213.00L241.04 213.00L241.04 203.44L240.08 203.44L239.74 204.09L238.93 204.84L237.43 205.38L237.43 206.27L238.79 205.79L239.81 205.11Z"></path>
<text transform="translate(256.2,223.6) scale(1,1.07)" class="tl" style="font-size:13.6px">Jet p<tspan class="sub" dy="6.8">T</tspan><tspan dy="-6.8"> [GeV]</tspan></text>
<text transform="translate(12,159.4) rotate(-90) scale(1,1.07)" class="yt">b-jet tagging efficiency SF</text>
<text x="65" y="29.1" class="atl">ATLAS</text>
<text x="65" y="49" class="tl14" style="font-size:14.1px">DL<tspan class="h">1</tspan>,&nbsp; various single-cut OP</text><path d="M87.19 49.00L88.46 49.00L88.46 39.09L87.47 39.09L87.12 39.76L86.27 40.54L84.72 41.10L84.72 42.02L86.13 41.53L87.19 40.82Z"></path>
</g>
<path d="M479.10 21.5 L480.00 21.0 L481.30 29.5 L483.10 17.2 L491.10 17.2" fill="none" stroke="#000" stroke-width="0.9"></path>
<text y="29.3" class="tl14"><tspan x="484.40">s</tspan><tspan x="506.90"><tspan class="h">1</tspan>3</tspan><tspan x="526.70" style="letter-spacing:0.8px">TeV,</tspan><tspan x="559.70">80.5</tspan><tspan x="590.90">fb</tspan><tspan class="sup2" x="602.70" dy="-6.4">-<tspan class="h">1</tspan></tspan></text><path d="M608.99 22.90L609.89 22.90L609.89 15.87L609.19 15.87L608.94 16.35L608.34 16.90L607.24 17.30L607.24 17.95L608.24 17.60L608.99 17.10Z"></path><path d="M511.03 29.30L512.29 29.30L512.29 19.46L511.31 19.46L510.96 20.13L510.12 20.90L508.58 21.46L508.58 22.37L509.98 21.88L511.03 21.18Z"></path>
<rect x="495.60" y="22.0" width="6.4" height="1.15"></rect>
<rect x="495.60" y="25.0" width="6.4" height="1.15"></rect>
<line x1="453.7" y1="126.30000000000001" x2="453.7" y2="136.3" stroke="#33cccc" stroke-width="1.4"></line>
<rect x="451.05" y="128.65" width="5.3" height="5.3" fill="#33cccc"></rect>
<text transform="translate(468.8,134.80) scale(1.15,0.8)" class="lg">ε</text>
<text x="474.40" y="139.60" class="sub2">b</text>
<text x="481.70" y="134.80" class="lg">= 85% scale factor (total unc.)</text>
<line x1="453.7" y1="141.70000000000002" x2="453.7" y2="151.70000000000002" stroke="#ffcc33" stroke-width="1.4"></line>
<path d="M453.70 143.90L456.45 148.80L450.95 148.80Z" fill="#ffcc33"></path>
<text transform="translate(468.8,150.20) scale(1.15,0.8)" class="lg">ε</text>
<text x="474.40" y="155.00" class="sub2">b</text>
<text x="481.70" y="150.20" class="lg">= 77% scale factor (total unc.)</text>
<line x1="453.7" y1="157.10000000000002" x2="453.7" y2="167.10000000000002" stroke="#cc0000" stroke-width="1.4"></line>
<circle cx="453.70" cy="162.10" r="2.75" fill="#cc0000"></circle>
<text transform="translate(468.8,165.60) scale(1.15,0.8)" class="lg">ε</text>
<text x="474.40" y="170.40" class="sub2">b</text>
<text x="481.70" y="165.60" class="lg">= 70% scale factor (total unc.)</text>
<line x1="453.7" y1="172.5" x2="453.7" y2="182.5" stroke="#99cc99" stroke-width="1.4"></line>
<path d="M453.70 180.30L456.45 175.40L450.95 175.40Z" fill="#99cc99"></path>
<text transform="translate(468.8,181.00) scale(1.15,0.8)" class="lg">ε</text>
<text x="474.40" y="185.80" class="sub2">b</text>
<text x="481.70" y="181.00" class="lg">= 60% scale factor (total unc.)</text>
<text x="158.3" y="256" class="cap">(a)</text>
<text x="513.5" y="256" class="cap">(b)</text>
</svg>

</body></html>
